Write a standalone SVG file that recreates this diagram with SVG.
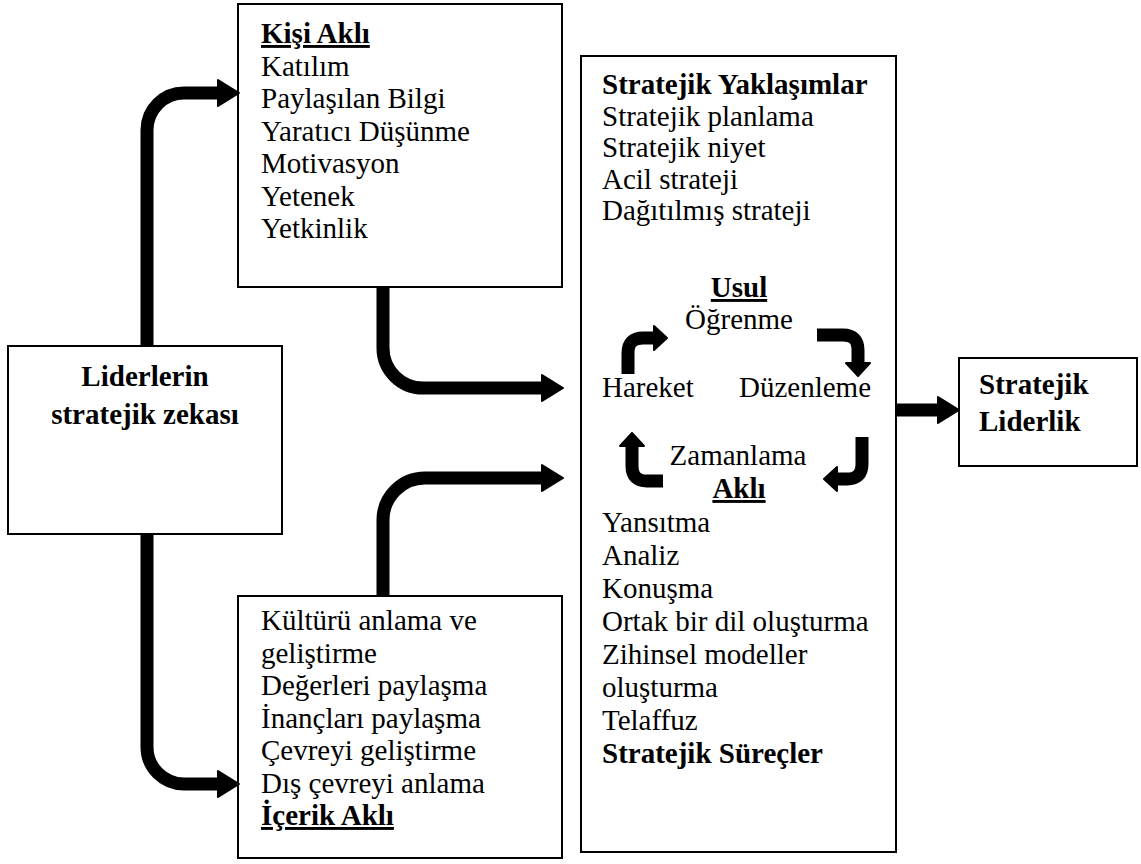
<svg xmlns="http://www.w3.org/2000/svg" width="1141" height="864" viewBox="0 0 1141 864">
<defs>
<style>
.box{fill:#fff;stroke:#000;stroke-width:2}
.t{font-family:"Liberation Serif","Times New Roman",serif;font-size:29px;fill:#000}
.b{font-weight:bold}
.u{text-decoration:underline}
.big{fill:none;stroke:#000;stroke-width:13;stroke-linejoin:round}
.sm{fill:none;stroke:#000;stroke-width:13;stroke-linejoin:round}
</style>
<marker id="ah" markerUnits="userSpaceOnUse" markerWidth="26" markerHeight="32" refX="1" refY="16" orient="auto" viewBox="0 0 26 32">
<path d="M1,3 L22,16 L1,29 Z" fill="#000" stroke="#000" stroke-width="2" stroke-linejoin="round"/>
</marker>
<marker id="ahs" markerUnits="userSpaceOnUse" markerWidth="18" markerHeight="28" refX="1" refY="14" orient="auto" viewBox="0 0 18 28">
<path d="M1,2 L14,14 L1,26 Z" fill="#000" stroke="#000" stroke-width="2" stroke-linejoin="round"/>
</marker>
</defs>
<rect width="1141" height="864" fill="#fff"/>

<g id="kisi-akli">
<rect class="box" x="238" y="4" width="324" height="283"/>
<text class="t b u" x="261" y="43">Kişi Aklı</text>
<text class="t" x="261" y="75.5">Katılım</text>
<text class="t" x="261" y="108">Paylaşılan Bilgi</text>
<text class="t" x="261" y="140.5">Yaratıcı Düşünme</text>
<text class="t" x="261" y="173">Motivasyon</text>
<text class="t" x="261" y="205.5">Yetenek</text>
<text class="t" x="261" y="238">Yetkinlik</text>
</g>

<g id="liderlerin">
<rect class="box" x="8" y="346" width="274" height="188"/>
<text class="t b" x="145" y="386" text-anchor="middle">Liderlerin</text>
<text class="t b" x="145" y="424" text-anchor="middle">stratejik zekası</text>
</g>

<g id="icerik-akli">
<rect class="box" x="238" y="596" width="324" height="262"/>
<text class="t" x="261" y="630">Kültürü anlama ve</text>
<text class="t" x="261" y="662.5">geliştirme</text>
<text class="t" x="261" y="695">Değerleri paylaşma</text>
<text class="t" x="261" y="727.5">İnançları paylaşma</text>
<text class="t" x="261" y="760">Çevreyi geliştirme</text>
<text class="t" x="261" y="792.5">Dış çevreyi anlama</text>
<text class="t b u" x="261" y="825">İçerik Aklı</text>
</g>

<g id="stratejik">
<rect class="box" x="581" y="56" width="315" height="796"/>
<text class="t b" x="602" y="94">Stratejik Yaklaşımlar</text>
<text class="t" x="602" y="125.5">Stratejik planlama</text>
<text class="t" x="602" y="157">Stratejik niyet</text>
<text class="t" x="602" y="188.5">Acil strateji</text>
<text class="t" x="602" y="220">Dağıtılmış strateji</text>
<text class="t b u" x="739" y="297" text-anchor="middle">Usul</text>
<text class="t" x="739" y="329" text-anchor="middle">Öğrenme</text>
<text class="t" x="602" y="397">Hareket</text>
<text class="t" x="739" y="397">Düzenleme</text>
<text class="t" x="738" y="465" text-anchor="middle">Zamanlama</text>
<text class="t b u" x="739" y="498" text-anchor="middle">Aklı</text>
<text class="t" x="602" y="532">Yansıtma</text>
<text class="t" x="602" y="565">Analiz</text>
<text class="t" x="602" y="598">Konuşma</text>
<text class="t" x="602" y="631">Ortak bir dil oluşturma</text>
<text class="t" x="602" y="664">Zihinsel modeller</text>
<text class="t" x="602" y="697">oluşturma</text>
<text class="t" x="602" y="730">Telaffuz</text>
<text class="t b" x="602" y="763">Stratejik Süreçler</text>
</g>

<g id="stratejik-liderlik">
<rect class="box" x="959" y="358" width="178" height="108"/>
<text class="t b" x="979" y="394">Stratejik</text>
<text class="t b" x="979" y="431">Liderlik</text>
</g>

<g id="connectors">
<path class="big" d="M147,345 L147,130 A37,37 0 0 1 184,93 L218,93" marker-end="url(#ah)"/>
<path class="big" d="M147,535 L147,747 A37,37 0 0 0 184,784 L218,784" marker-end="url(#ah)"/>
<path class="big" d="M383,287 L383,348 A40,40 0 0 0 423,388 L542,388" marker-end="url(#ah)"/>
<path class="big" d="M383,596 L383,520 A42,42 0 0 1 425,478 L542,478" marker-end="url(#ah)"/>
<path class="big" d="M896,410 L938,410" marker-end="url(#ah)"/>
<path class="sm" d="M628,374 L628,353 Q628,338 643,338 L654,338" marker-end="url(#ahs)"/>
<path class="sm" d="M817,335 L843,335 Q858,335 858,350 L858,363" marker-end="url(#ahs)"/>
<path class="sm" d="M862,437 L862,464 Q862,479 847,479 L837,479" marker-end="url(#ahs)"/>
<path class="sm" d="M663,481 L647,481 Q632,481 632,466 L632,446" marker-end="url(#ahs)"/>
</g>
</svg>
